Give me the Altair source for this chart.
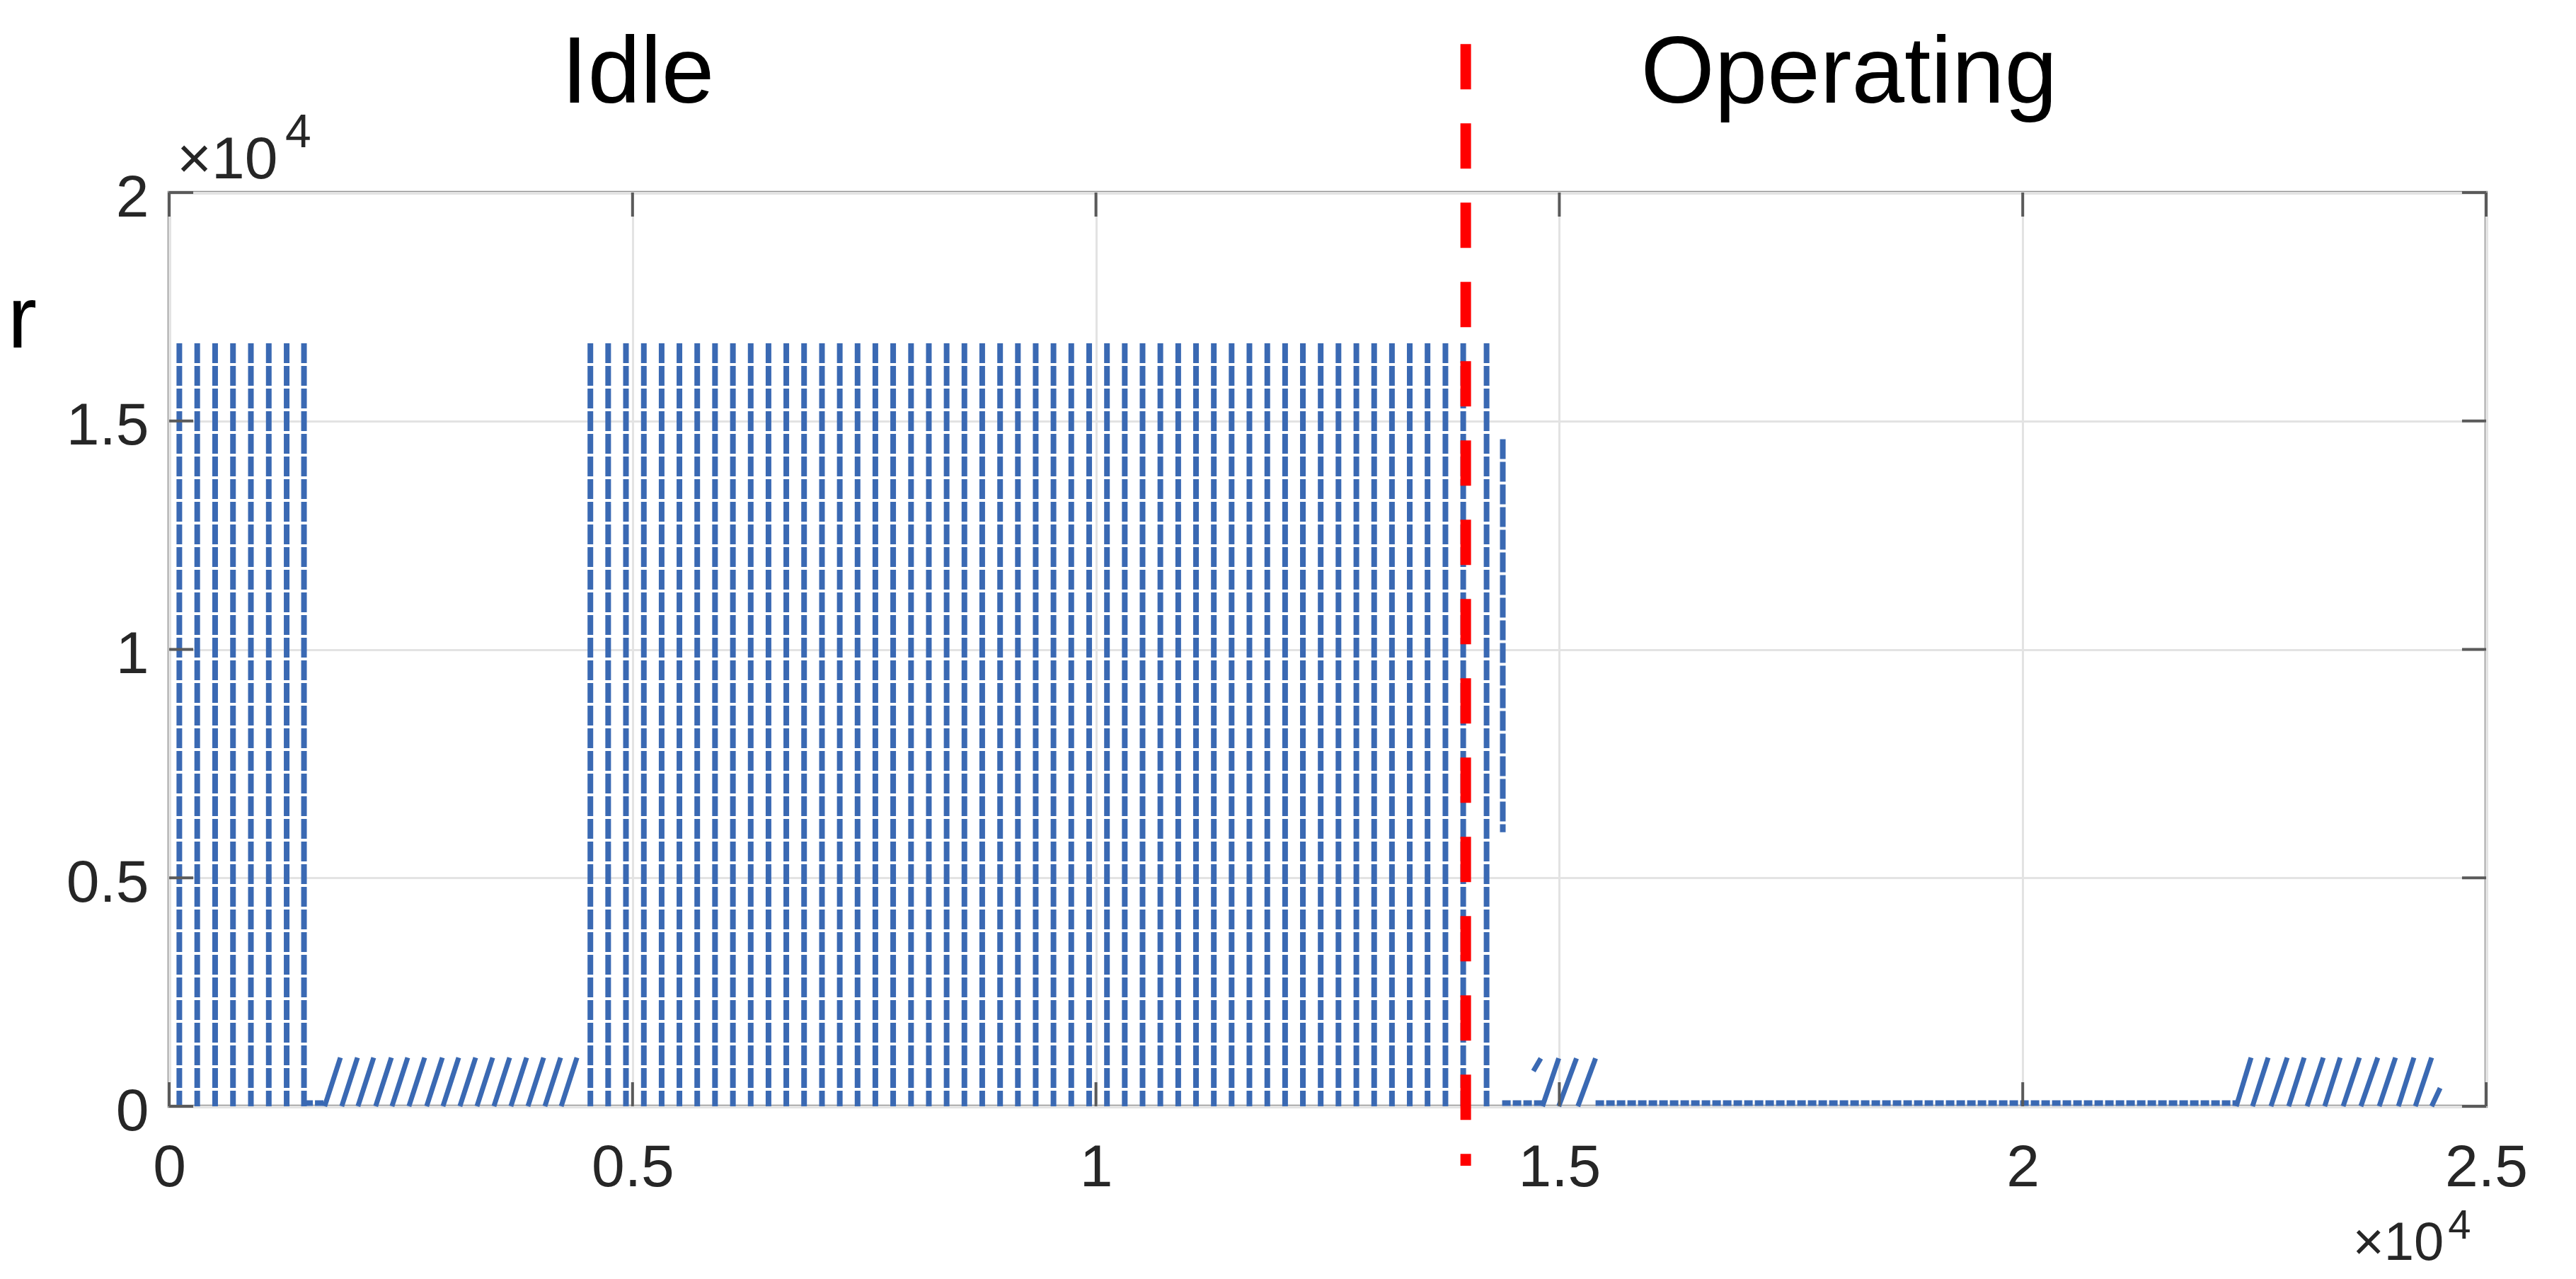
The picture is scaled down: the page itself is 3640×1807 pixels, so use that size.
import altair as alt
import pandas as pd

# ---------------- data ----------------
# x = sample index, y = counter value
x_ticks = [0, 5000, 10000, 15000, 20000, 25000]
y_ticks = [0, 5000, 10000, 15000, 20000]

# tall sawtooth columns (Idle periods)
idle1_cols_x = [110, 303, 496, 689, 882, 1075, 1268, 1455]
idle2_cols_x = [4545, 4737, 4929, 5122, 5314, 5506, 5698, 5890, 6083, 6275,
                6467, 6659, 6851, 7044, 7236, 7428, 7620, 7812, 8005, 8197,
                8389, 8581, 8773, 8966, 9158, 9350, 9542, 9734, 9927, 10119,
                10311, 10503, 10695, 10888, 11080, 11272, 11464, 11656, 11849, 12041,
                12233, 12425, 12617, 12810, 13002, 13194, 13386, 13578, 13771, 13963,
                14215]
col_top = 16700
short_col_x = [14390]
short_col_top = [14600]
short_col_bottom = [6000]

# low slanted ramps (amplitude ~1000)
rampB_start_x = [1678, 1862, 2037, 2228, 2404, 2587, 2778, 2954, 3137, 3321,
                 3504, 3687, 3871, 4054, 4230]
rampB_end_x = [1848, 2032, 2207, 2398, 2574, 2757, 2948, 3124, 3307, 3491,
               3674, 3857, 4041, 4224, 4400]
rampB_start_y = [0] * 15
rampB_end_y = [1065] * 15

op_ramp_start_x = [14720, 14818, 14994, 15200]
op_ramp_end_x = [14800, 14994, 15185, 15391]
op_ramp_start_y = [770, 0, 0, 0]
op_ramp_end_y = [1050, 1050, 1050, 1050]

end_ramp_start_x = [22304, 22479, 22678, 22869, 23068, 23258, 23457, 23648,
                    23846, 24053, 24236, 24412]
end_ramp_end_x = [22464, 22648, 22854, 23037, 23243, 23426, 23633, 23831,
                  24022, 24221, 24412, 24504]
end_ramp_start_y = [0] * 12
end_ramp_end_y = [1065, 1065, 1065, 1065, 1065, 1065, 1065, 1065, 1065, 1065, 1065, 400]

# flat parts near zero
flat_start_x = [1459, 14383, 15391]
flat_end_x = [1680, 14818, 22304]
flat_level = [70, 70, 70]

# boundary between Idle and Operating
boundary_x = [13990]
boundary_top = [23250]
boundary_bottom = [-1300]

# annotation texts (data coordinates)
center_labels = ["Idle", "Operating"]
center_x = [5057, 18126]
center_y = [21968, 21968]
ylab_text = ["r"]
ylab_x = [-1428]
ylab_y = [16607]
exp_top_text = ["×10"]
exp_top_x = [84]
exp_top_y = [20310]
sup_top_text = ["4"]
sup_top_x = [1253]
sup_top_y = [20991]
exp_bot_text = ["×10"]
exp_bot_x = [23560]
exp_bot_y = [-3362]
sup_bot_text = ["4"]
sup_bot_x = [24590]
sup_bot_y = [-2897]

# ---------------- tables ----------------
cols = pd.DataFrame({
    "x": idle1_cols_x + idle2_cols_x + short_col_x,
    "top": [col_top] * (len(idle1_cols_x) + len(idle2_cols_x)) + short_col_top,
    "bottom": [0] * (len(idle1_cols_x) + len(idle2_cols_x)) + short_col_bottom,
})
ramps = pd.DataFrame({
    "x0": rampB_start_x + op_ramp_start_x + end_ramp_start_x,
    "x1": rampB_end_x + op_ramp_end_x + end_ramp_end_x,
    "y0": rampB_start_y + op_ramp_start_y + end_ramp_start_y,
    "y1": rampB_end_y + op_ramp_end_y + end_ramp_end_y,
})
flats = pd.DataFrame({"x0": flat_start_x, "x1": flat_end_x, "y": flat_level})
boundary = pd.DataFrame({"x": boundary_x, "y0": boundary_top, "y1": boundary_bottom})

xtick_rows = []
for v in x_ticks:
    xtick_rows.append({"x": v, "y0": 0, "y1": 527})
    xtick_rows.append({"x": v, "y0": 20000, "y1": 19473})
xticks_df = pd.DataFrame(xtick_rows)
ytick_rows = []
for v in y_ticks:
    ytick_rows.append({"y": v, "x0": 0, "x1": 260})
    ytick_rows.append({"y": v, "x0": 25000, "x1": 24740})
yticks_df = pd.DataFrame(ytick_rows)

centers = pd.DataFrame({"t": center_labels, "x": center_x, "y": center_y})
ylab = pd.DataFrame({"t": ylab_text, "x": ylab_x, "y": ylab_y})
exp_top = pd.DataFrame({"t": exp_top_text, "x": exp_top_x, "y": exp_top_y})
sup_top = pd.DataFrame({"t": sup_top_text, "x": sup_top_x, "y": sup_top_y})
exp_bot = pd.DataFrame({"t": exp_bot_text, "x": exp_bot_x, "y": exp_bot_y})
sup_bot = pd.DataFrame({"t": sup_bot_text, "x": sup_bot_x, "y": sup_bot_y})

# ---------------- scales / axes ----------------
FONT = "Liberation Sans"
BLUE = "#3a69b3"
TXT = "#262626"
xs = alt.Scale(domain=[0, 25000], nice=False, zero=False)
ys = alt.Scale(domain=[0, 20000], nice=False, zero=False)
xa = alt.Axis(values=x_ticks, labelExpr="datum.value / 10000", title=None,
              grid=True, ticks=False, tickSize=0, domain=False,
              labelPadding=46, labelFlush=False, labelOverlap=False)
ya = alt.Axis(values=y_ticks, labelExpr="datum.value / 10000", title=None,
              grid=True, ticks=False, tickSize=0, domain=False,
              labelPadding=29, labelOffset=8, labelFlush=False, labelOverlap=False)


def X(f):
    return alt.X(f"{f}:Q", scale=xs, axis=xa)


def Y(f):
    return alt.Y(f"{f}:Q", scale=ys, axis=ya)


def text_layer(df, size, align, color):
    return alt.Chart(df).mark_text(font=FONT, fontSize=size, color=color,
                                   align=align, baseline="alphabetic").encode(
        x=X("x"), y=Y("y"), text="t:N")


col_layer = alt.Chart(cols).mark_rule(color=BLUE, strokeWidth=8, strokeDash=[28, 4]).encode(
    x=X("x"), y=Y("top"), y2="bottom")
ramp_layer = alt.Chart(ramps).mark_rule(color=BLUE, strokeWidth=7).encode(
    x=X("x0"), y=Y("y0"), x2="x1", y2="y1")
flat_layer = alt.Chart(flats).mark_rule(color=BLUE, strokeWidth=8, strokeDash=[12, 3]).encode(
    x=X("x0"), x2="x1", y=Y("y"))
xtick_layer = alt.Chart(xticks_df).mark_rule(color="#5a5a5a", strokeWidth=4).encode(
    x=X("x"), y=Y("y0"), y2="y1")
ytick_layer = alt.Chart(yticks_df).mark_rule(color="#5a5a5a", strokeWidth=4).encode(
    y=Y("y"), x=X("x0"), x2="x1")
red_layer = alt.Chart(boundary).mark_rule(color="#ff0000", strokeWidth=15, strokeDash=[64, 48]).encode(
    x=X("x"), y=Y("y0"), y2="y1")

chart = alt.layer(
    col_layer, ramp_layer, flat_layer, xtick_layer, ytick_layer, red_layer,
    text_layer(centers, 134, "center", "black"),
    text_layer(ylab, 124, "right", "black"),
    text_layer(exp_top, 84, "left", TXT),
    text_layer(sup_top, 66, "left", TXT),
    text_layer(exp_bot, 76, "left", TXT),
    text_layer(sup_bot, 58, "left", TXT),
).properties(
    width=3274, height=1291,
    autosize=alt.AutoSizeParams(type="none"),
    padding={"left": 231, "top": 264, "right": 119, "bottom": 236},
    background="white",
).configure_view(
    stroke="#8f8f8f", strokeWidth=4.5
).configure_axis(
    gridColor="#e3e3e3", gridWidth=3, gridOpacity=1,
    labelFont=FONT, labelFontSize=84, labelColor=TXT,
)

chart.save("out.html", embed_options={"renderer": "svg", "actions": False})
